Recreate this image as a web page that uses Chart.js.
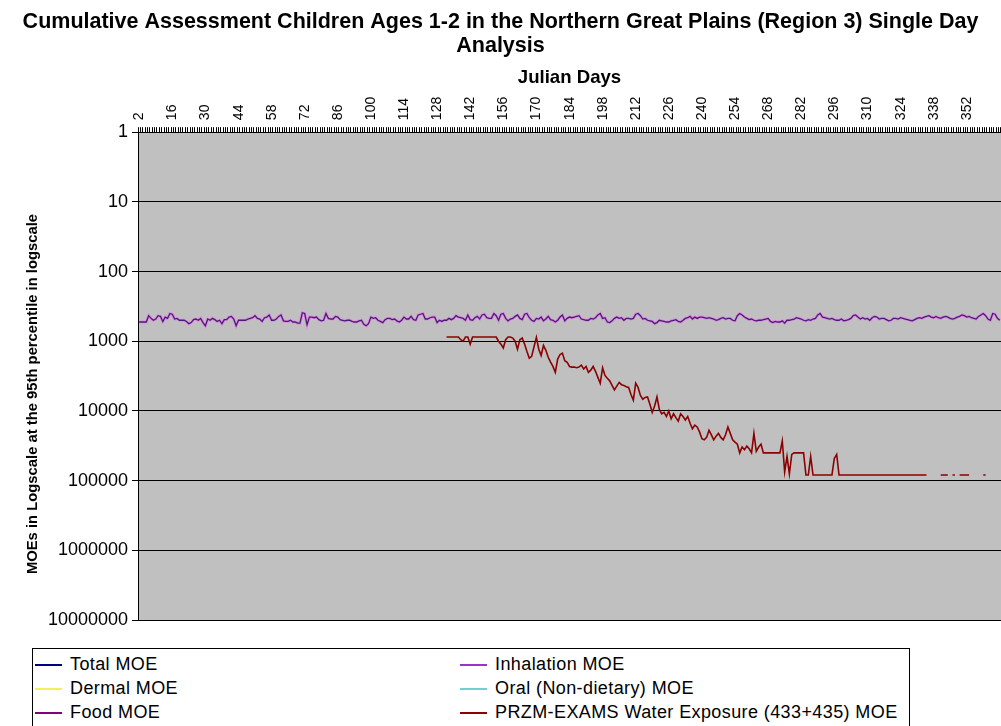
<!DOCTYPE html>
<html>
<head>
<meta charset="utf-8">
<script src="https://cdn.jsdelivr.net/npm/chart.js@4.4.1/dist/chart.umd.min.js"></script>
<style>
  html, body { margin: 0; padding: 0; background: #fff; overflow: hidden; }
  #wrap { position: relative; width: 1001px; height: 726px; overflow: hidden; }
  #wrap canvas { position: absolute; left: 0; top: 0; }
  #legend { position: absolute; left: 32px; top: 648px; width: 876px; height: 100px;
            border: 1px solid #000; background: #fff;
            font: 18px "Liberation Sans", Arial, sans-serif; letter-spacing: 0.4px; color: #000; }
  .item { position: absolute; height: 24px; line-height: 24px; white-space: nowrap; }
  .item .sw { display: inline-block; width: 27px; height: 0; border-top: 2px solid;
              vertical-align: middle; margin-right: 8px; }
</style>
</head>
<body>
<div id="wrap">
  <canvas id="chart" width="1001" height="726"></canvas>
  <div id="legend"></div>
</div>
<script>
// categories: Julian days 2..366
const firstDay = 2;
const lastDay = 366;
const days = [];
for (let d = firstDay; d <= lastDay; d++) days.push(d);

const xTickLabels = [2, 16, 30, 44, 58, 72, 86, 100, 114, 128, 142, 156, 170, 184,
  198, 212, 226, 240, 254, 268, 282, 296, 310, 324, 338, 352];
const yTicks = [1, 10, 100, 1000, 10000, 100000, 1000000, 10000000];

// Total MOE (Inhalation MOE lies on top of it at this scale)
const totalMOE = [
  530, 530, 530, 530, 430, 470, 500, 480, 430, 440,
  520, 450, 470, 400, 410, 480, 470, 500, 500, 500,
  520, 560, 540, 490, 480, 500, 470, 540, 600, 480,
  500, 470, 490, 520, 500, 560, 490, 490, 450, 440,
  480, 600, 500, 500, 500, 500, 480, 470, 460, 430,
  470, 480, 520, 460, 450, 420, 500, 500, 480, 440,
  420, 510, 520, 520, 500, 530, 530, 550, 550, 390,
  400, 580, 450, 450, 460, 450, 490, 510, 500, 400,
  470, 480, 480, 440, 450, 490, 500, 510, 500, 500,
  520, 530, 530, 510, 500, 570, 600, 560, 450, 470,
  460, 500, 520, 540, 490, 470, 470, 490, 480, 510,
  530, 500, 450, 480, 480, 440, 490, 500, 420, 410,
  400, 480, 480, 460, 450, 450, 540, 500, 520, 500,
  500, 470, 490, 470, 430, 450, 460, 470, 500, 420,
  490, 500, 460, 440, 480, 420, 410, 460, 470, 470,
  400, 430, 500, 410, 400, 470, 510, 480, 470, 440,
  420, 470, 490, 410, 400, 460, 500, 520, 470, 480,
  450, 510, 480, 440, 490, 500, 530, 500, 450, 420,
  510, 470, 450, 460, 450, 440, 430, 480, 490, 500,
  500, 470, 480, 460, 420, 400, 470, 460, 530, 540,
  510, 470, 450, 470, 460, 500, 470, 470, 480, 470,
  410, 400, 430, 480, 470, 500, 510, 520, 560, 540,
  500, 510, 520, 530, 530, 510, 500, 490, 520, 530,
  500, 470, 460, 440, 480, 450, 470, 450, 450, 460,
  470, 460, 470, 480, 500, 490, 470, 460, 480, 470,
  470, 500, 510, 430, 400, 420, 450, 470, 490, 480,
  500, 510, 500, 500, 490, 480, 470, 520, 540, 520,
  530, 530, 510, 550, 500, 500, 490, 480, 460, 470,
  480, 500, 510, 490, 500, 480, 470, 420, 400, 450,
  460, 470, 480, 470, 490, 500, 500, 480, 510, 500,
  490, 470, 430, 420, 450, 480, 460, 480, 470, 500,
  460, 440, 450, 480, 470, 470, 490, 510, 500, 470,
  470, 480, 460, 470, 480, 490, 500, 510, 490, 470,
  460, 470, 450, 440, 430, 450, 460, 440, 460, 470,
  450, 440, 450, 470, 480, 470, 450, 440, 420, 430,
  450, 440, 460, 470, 480, 440, 420, 400, 430, 480,
  500, 400, 410, 470, 500
];
const inhalationMOE = totalMOE;

// nothing of these three shows inside the plotted range
const dermalMOE = [];
const oralMOE = [];
const foodMOE = [];

// PRZM-EXAMS water exposure, starts at the 131st category
const waterStart = 130;
const waterMOE = [
  870, 870, 870, 870, 870, 870, 950, 1000, 870, 870,
  1100, 870, 870, 870, 870, 870, 870, 870, 870, 870,
  870, 870, 1000, 1100, 1250, 950, 870, 870, 900, 1000,
  1300, 950, 900, 1100, 1400, 1750, 1650, 1200, 880, 1300,
  1600, 1150, 1350, 1700, 2000, 2300, 2800, 1800, 1550, 1480,
  1900, 2000, 2300, 2350, 2350, 2400, 2350, 2200, 2500, 2300,
  2800, 2600, 2300, 2700, 3300, 4000, 2400, 3100, 3400, 3700,
  4300, 5000, 4400, 3900, 4200, 4300, 4500, 4600, 5800, 7000,
  4000, 4600, 6000, 6800, 6400, 6300, 8000, 10500, 8500, 6300,
  9500, 11000, 10500, 12000, 10000, 13000, 11000, 12500, 14000, 11000,
  12000, 13500, 12000, 15000, 18000, 16000, 17000, 20000, 25000, 26000,
  24000, 19000, 22000, 26000, 23000, 21000, 24000, 26000, 22000, 17000,
  21000, 26000, 28000, 30000, 40000, 33000, 36000, 32000, 35000, 40000,
  21000, 38000, 33000, 30000, 40000, 40000, 40000, 40000, 40000, 40000,
  40000, 40000, 27000, 75000, 45000, 80000, 42000, 40000, 40000, 40000,
  40000, 40000, 83000, 83000, 45000, 83000, 83000, 83000, 83000, 83000,
  83000, 83000, 83000, 83000, 48000, 42000, 83000, 83000, 83000, 83000,
  83000, 83000, 83000, 83000, 83000, 83000, 83000, 83000, 83000, 83000,
  83000, 83000, 83000, 83000, 83000, 83000, 83000, 83000, 83000, 83000,
  83000, 83000, 83000, 83000, 83000, 83000, 83000, 83000, 83000, 83000,
  83000, 83000, 83000, 83000, null, null, null, null, null, 83000,
  83000, 83000, 83000, null, 83000, 83000, null, 83000, 83000, 83000,
  83000, 83000, null, null, null, null, null, 83000, 83000, null
];
const waterData = days.map((d, i) => {
  const v = waterMOE[i - waterStart];
  return v === undefined ? null : v;
});

const FONT = '"Liberation Sans", Arial, sans-serif';
const yTitle = 'MOEs in Logscale at the 95th percentile in logscale';

const plotBg = {
  id: 'plotBg',
  beforeDraw(chart) {
    const a = chart.chartArea;
    const c = chart.ctx;
    c.save();
    c.fillStyle = '#c0c0c0';
    c.fillRect(a.left, a.top, a.right - a.left, a.bottom - a.top);
    c.restore();
  },
  afterDraw(chart) {
    // y axis title, a little below the axis middle as in the original
    const c = chart.ctx;
    c.save();
    c.translate(33, 394);
    c.rotate(-Math.PI / 2);
    c.font = 'bold 14.8px ' + FONT;
    c.fillStyle = '#000';
    c.textAlign = 'center';
    c.textBaseline = 'middle';
    c.fillText(yTitle, 0, 0);
    c.restore();
  }
};

const ctx = document.getElementById('chart').getContext('2d');
const chart = new Chart(ctx, {
  type: 'line',
  data: {
    labels: days,
    datasets: [
      { label: 'Total MOE', data: totalMOE, borderColor: '#4a1c78', legendColor: '#000080', borderWidth: 1.3, order: 0 },
      { label: 'Inhalation MOE', data: inhalationMOE, borderColor: '#e08ce0', legendColor: '#9933cc', borderWidth: 3, order: 1 },
      { label: 'Dermal MOE', data: dermalMOE, borderColor: '#ffff00', legendColor: '#f0f060', borderWidth: 1.5, order: 2 },
      { label: 'Oral (Non-dietary) MOE', data: oralMOE, borderColor: '#00ffff', legendColor: '#70d0d0', borderWidth: 1.5, order: 3 },
      { label: 'Food MOE', data: foodMOE, borderColor: '#800080', borderWidth: 1.5, order: 4 },
      { label: 'PRZM-EXAMS Water Exposure (433+435) MOE', data: waterData, borderColor: '#8b0000', borderWidth: 1.6, order: 5 }
    ]
  },
  options: {
    responsive: false,
    animation: false,
    layout: { padding: { left: 0, right: 0, top: 0, bottom: 106 } },
    elements: { point: { radius: 0 }, line: { tension: 0 } },
    plugins: {
      legend: { display: false },
      tooltip: { enabled: false },
      title: {
        display: true,
        text: ['Cumulative Assessment Children Ages 1-2 in the Northern Great Plains (Region 3) Single Day', 'Analysis'],
        color: '#000',
        font: { family: FONT, size: 21.5, weight: 'bold', lineHeight: 1.12 },
        padding: { top: 10, bottom: 0 }
      }
    },
    scales: {
      x: {
        position: 'top',
        offset: true,
        grid: { display: true, drawOnChartArea: false, drawTicks: true, tickLength: 5, color: '#000', offset: true },
        border: { display: true, color: '#000' },
        ticks: {
          autoSkip: false, minRotation: 90, maxRotation: 90, padding: 7, labelOffset: 17,
          color: '#000', font: { family: FONT, size: 14 },
          callback: (v, i) => (xTickLabels.includes(days[i]) ? String(days[i]) : '')
        },
        title: { display: true, text: 'Julian Days', color: '#000', font: { family: FONT, size: 18.6, weight: 'bold' }, padding: { top: 9, bottom: 0 } },
        afterFit: s => { s.height = 74; s.paddingLeft = 0; s.paddingRight = 0; }
      },
      y: {
        type: 'logarithmic',
        reverse: true,
        min: 1,
        max: 10000000,
        grid: { color: '#000', lineWidth: 1, tickLength: 6 },
        border: { display: true, color: '#000' },
        afterBuildTicks: s => { s.ticks = yTicks.map(v => ({ value: v })); },
        ticks: { color: '#000', padding: 4, font: { family: FONT, size: 18 }, callback: v => String(v) },
        title: { display: false },
        afterFit: s => { s.width = 138; }
      }
    }
  },
  plugins: [plotBg]
});

// boxed legend, two columns
const legend = document.getElementById('legend');
const colX = [2, 427];
const rowY = [15, 39, 63];
chart.data.datasets.forEach((ds, i) => {
  const el = document.createElement('div');
  el.className = 'item';
  el.style.left = colX[i % 2] + 'px';
  el.style.top = (rowY[Math.floor(i / 2)] - 12) + 'px';
  const sw = document.createElement('span');
  sw.className = 'sw';
  sw.style.borderTopColor = ds.legendColor || ds.borderColor;
  el.appendChild(sw);
  el.appendChild(document.createTextNode(ds.label));
  legend.appendChild(el);
});
</script>
</body>
</html>
